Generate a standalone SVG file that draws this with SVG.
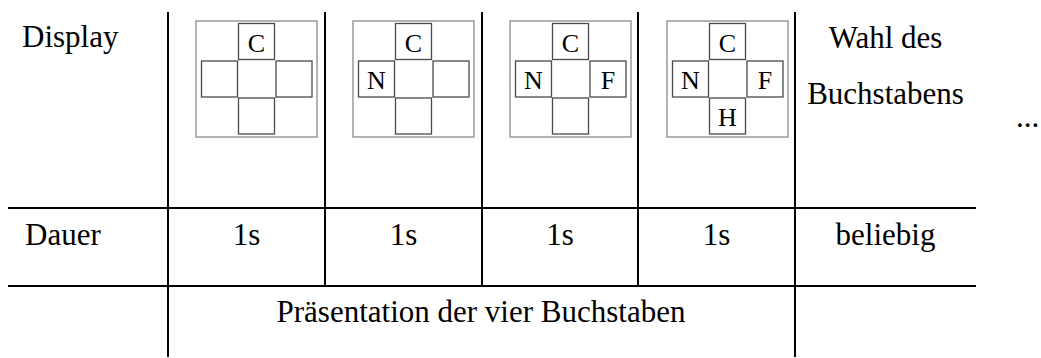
<svg xmlns="http://www.w3.org/2000/svg" width="1041" height="358" viewBox="0 0 1041 358">
<style>
text{font-family:"Liberation Serif","Times New Roman",serif;fill:#000}
.t{font-size:31px}
.m{text-anchor:middle}
.l{font-size:26px;text-anchor:middle}
.g{stroke:#000;stroke-width:2;fill:none}
.o{fill:#fff;stroke:#8a8a8a;stroke-width:1.3}
.s{fill:none;stroke:#4a4a4a;stroke-width:1.3}
</style>
<defs>
<g id="frame">
<rect class="o" x="0" y="0" width="121" height="116"/>
<rect class="s" x="42.5" y="2.5" width="36" height="36"/>
<rect class="s" x="5.5" y="40" width="36" height="36"/>
<rect class="s" x="80" y="40" width="36" height="36"/>
<rect class="s" x="42.5" y="77" width="36" height="36"/>
</g>
</defs>
<g id="grid">
<line class="g" x1="168" y1="12" x2="168" y2="357"/>
<line class="g" x1="325" y1="12" x2="325" y2="286"/>
<line class="g" x1="482" y1="12" x2="482" y2="286"/>
<line class="g" x1="638" y1="12" x2="638" y2="286"/>
<line class="g" x1="795" y1="12" x2="795" y2="357"/>
<line class="g" x1="8" y1="208" x2="976" y2="208"/>
<line class="g" x1="8" y1="286" x2="976" y2="286"/>
</g>
<g id="labels">
<text class="t" x="22" y="47">Display</text>
<text class="t" x="25" y="245">Dauer</text>
<text class="t m" x="885.5" y="48">Wahl des</text>
<text class="t m" x="885.5" y="104">Buchstabens</text>
<text class="t" x="1016" y="127">...</text>
</g>
<g id="display1">
<use href="#frame" x="196" y="21"/>
<text class="l" x="256.5" y="51.5">C</text>
</g>
<g id="display2">
<use href="#frame" x="353" y="21"/>
<text class="l" x="413.5" y="51.5">C</text>
<text class="l" x="376.5" y="89">N</text>
</g>
<g id="display3">
<use href="#frame" x="510" y="21"/>
<text class="l" x="570.5" y="51.5">C</text>
<text class="l" x="533.5" y="89">N</text>
<text class="l" x="608" y="89">F</text>
</g>
<g id="display4">
<use href="#frame" x="667" y="21"/>
<text class="l" x="727.5" y="51.5">C</text>
<text class="l" x="690.5" y="89">N</text>
<text class="l" x="765" y="89">F</text>
<text class="l" x="727.5" y="126">H</text>
</g>
<g id="durations">
<text class="t m" x="246.5" y="245">1s</text>
<text class="t m" x="403.5" y="245">1s</text>
<text class="t m" x="560" y="245">1s</text>
<text class="t m" x="716.5" y="245">1s</text>
<text class="t m" x="885.5" y="245">beliebig</text>
</g>
<g id="presentation">
<text class="t m" x="481" y="322">Präsentation der vier Buchstaben</text>
</g>
</svg>
